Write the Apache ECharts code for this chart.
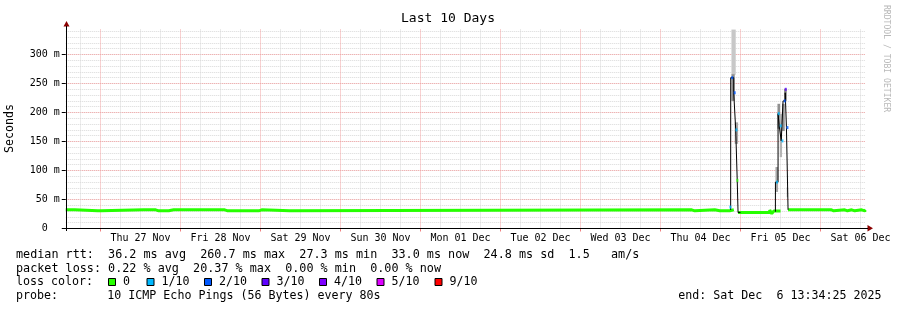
<!DOCTYPE html>
<html><head><meta charset="utf-8">
<script src="https://cdn.jsdelivr.net/npm/echarts@6/dist/echarts.min.js"></script>
<style>html,body{margin:0;padding:0;background:#fff}#c{width:897px;height:310px}</style>
</head><body><div id="c"></div>
<script>
// ---------- DATA ----------
const startTime = Date.UTC(2025, 10, 26, 13, 34, 25);
const endTime   = Date.UTC(2025, 11, 6, 13, 34, 25);

// median RTT (ms), loss 0 (green) — step segments, null = break
const greenTimes = [
 '11-26 13:34','11-26 15:04','11-26 15:40','11-26 16:16','11-26 23:10','11-26 23:46',
 '11-27 00:13','11-27 12:58','11-27 13:25','11-27 16:34','11-27 17:28','11-27 18:04',
 '11-27 20:28','11-27 21:58','11-27 22:25','11-28 13:16','11-28 14:10','11-28 14:46',
 '11-28 15:58','11-28 16:16','11-28 18:58','11-28 19:16','11-28 20:46','11-28 21:22',
 '11-28 23:28','11-29 00:22','11-29 08:46','12-04 09:22','12-04 10:16','12-04 16:16',
 '12-04 17:46','12-04 18:22','12-04 20:46','12-04 21:04','12-04 22:00',
 '12-04 23:16','12-05 08:46','12-05 09:22','12-05 09:58','12-05 10:29','12-05 12:00',
 '12-05 14:16','12-05 19:16','12-05 19:47','12-06 03:17','12-06 03:58','12-06 07:16',
 '12-06 08:05','12-06 09:22','12-06 10:16','12-06 12:22','12-06 13:16','12-06 13:34'
];
const greenValues = [
 32.2,34,32.2,30.5,32.2,30.5,
 32.2,30.5,32.2,30.5,32.2,30.5,
 32.2,30.5,32.2,30.5,32.2,30.5,
 32.2,30.5,32.2,30.5,32.2,30.5,
 32.2,30.5,32.2,30.5,32.2,30.5,
 32.2,30.5,32.2,32.2,null,
 27.5,32,25.5,30,30,null,
 32.2,30.5,32.2,30.5,32.2,30.5,
 32.2,30.5,32.2,30.5,32.2,32.2
];

// median RTT during the two latency spikes (black)
const spikeTimes = [
 '12-04 21:03','12-04 21:04','12-04 21:58','12-04 22:34','12-04 23:01','12-04 23:16','12-05 00:00',
 '12-05 10:28','12-05 10:29','12-05 11:16','12-05 11:37','12-05 12:13','12-05 12:46','12-05 13:25','12-05 13:47','12-05 14:16'
];
const spikeValues = [
 32.2,260,234,170,83,27.5,null,
 29,80,198,177,151,220,234,174,32.2
];

// loss-coloured median samples (loss index)
const dotTimes  = ['12-04 20:58','12-04 21:31','12-04 22:16','12-04 22:47','12-04 23:04',
                   '12-05 10:58','12-05 11:28','12-05 12:04','12-05 12:35','12-05 13:16','12-05 13:34','12-05 14:05'];
const dotValues = [37,260,234,170,83, 80,198,177,151,220,240,174];
const dotLoss   = [1,2,2,1,0, 1,1,1,1,2,3,2];

// smoke (ping spread) bands
const smokeStart = ['12-04 21:17','12-04 21:17','12-04 22:16','12-05 10:29','12-05 11:05','12-05 11:46','12-05 12:28','12-05 13:05','12-05 13:52'];
const smokeEnd   = ['12-04 22:34','12-04 22:16','12-04 23:16','12-05 11:16','12-05 11:52','12-05 12:28','12-05 13:16','12-05 13:52','12-05 14:16'];
const smokeLow   = [265,220,146,63,172,123,168,220,54];
const smokeHigh  = [343,266,183,106,215,198,215,241,71];
const smokeShade = ['#c8c8c8','#8c8c8c','#a8a8a8','#a8a8a8','#909090','#b4b4b4','#909090','#808080','#b4b4b4'];

// axis labels
const dayLabels = ['Thu 27 Nov','Fri 28 Nov','Sat 29 Nov','Sun 30 Nov','Mon 01 Dec','Tue 02 Dec','Wed 03 Dec','Thu 04 Dec','Fri 05 Dec','Sat 06 Dec'];
const dayDates  = ['11-27','11-28','11-29','11-30','12-01','12-02','12-03','12-04','12-05','12-06'];
const yTicks = [0,50,100,150,200,250,300];

const lossLabels = ['0','1/10','2/10','3/10','4/10','5/10','9/10'];
const lossColors = ['#26ff00','#00b8ff','#0059ff','#5e00ff','#7e00ff','#dd00ff','#ff0000'];

const legendRtt  = 'median rtt:  36.2 ms avg  260.7 ms max  27.3 ms min  33.0 ms now  24.8 ms sd  1.5   am/s';
const legendLoss = 'packet loss: 0.22 % avg  20.37 % max  0.00 % min  0.00 % now';
const legendProbe = '10 ICMP Echo Pings (56 Bytes) every 80s';
const legendEnd = 'end: Sat Dec  6 13:34:25 2025';

// ---------- helpers ----------
function T(s){ const [d,h]=s.split(' '); const [mo,da]=d.split('-').map(Number); const [hh,mm]=(h||'00:00').split(':').map(Number); return Date.UTC(2025,mo-1,da,hh,mm); }
const pair = (ts, vs) => ts.map((t,i)=>[T(t), vs[i]]);
const noonTimes = dayDates.map(d=>T(d+' 12:00'));
const midnights = dayDates.map(d=>T(d+' 00:00'));
const labelMap = {}; noonTimes.forEach((t,i)=>labelMap[t]=dayLabels[i]);

// grid lines every 6 hours
const H = 3600e3;
const gridLines = [];
for (let t = T('11-26 18:00'); t < endTime; t += 6*H) {
  const major = new Date(t).getUTCHours() === 0;
  gridLines.push({xAxis: t, lineStyle: {color: major ? '#f3a3a3' : '#d8d8d8', type: [1,1], width: 1}});
}

const MONO = '"DejaVu Sans Mono", monospace';
const GL = 65.75, GH = 200.1, GT = 228.5 - 200.1, GW = 800;

// ---------- legend graphics ----------
const LF = '11.65px ' + MONO;
function txt(s, x, y, align, font){ return {type:'text', x, y, silent:true, style:{text:s, font:font||LF, fill:'#000', align:align||'left', verticalAlign:'middle'}}; }
const g = [];
g.push({type:'text', x:448, y:19, silent:true, style:{text:'Last 10 Days', font:'13px '+MONO, fill:'#000', align:'center', verticalAlign:'middle'}});
g.push({type:'text', x:886.5, y:5, rotation:-Math.PI/2, silent:true, style:{text:'RRDTOOL / TOBI OETIKER', font:'8.1px '+MONO, fill:'#b8b8b8', align:'left', verticalAlign:'middle'}});
g.push(txt(legendRtt, 16, 255, 'left', '11.78px ' + MONO));
g.push(txt(legendLoss, 16, 268.5, 'left', '11.78px ' + MONO));
g.push(txt('loss color:',16,282.3));
const boxX = [108.5,147,204.5,262,319.5,377,435];
lossLabels.forEach((l,i)=>{
  g.push({type:'rect', silent:true, shape:{x:boxX[i], y:278.5, width:7, height:7}, style:{fill:lossColors[i], stroke:'#000', lineWidth:1}});
  g.push(txt(l, boxX[i]+14.5, 282.3));
});
g.push(txt('probe:',16,296));
g.push(txt(legendProbe,107.3,296));
g.push(txt(legendEnd,881.5,296,'right'));
// axis arrows / lines
g.push({type:'polygon', silent:true, z:100, shape:{points:[[63.5,26.5],[69.5,26.5],[66.5,21]]}, style:{fill:'#8b0000'}});
g.push({type:'polygon', silent:true, z:100, shape:{points:[[867.5,225],[867.5,231.5],[873,228.3]]}, style:{fill:'#8b0000'}});
g.push({type:'line', silent:true, z:100, shape:{x1:62, y1:228.5, x2:868, y2:228.5}, style:{stroke:'#000', lineWidth:1}});
g.push({type:'line', silent:true, z:100, shape:{x1:66.5, y1:26, x2:66.5, y2:231}, style:{stroke:'#000', lineWidth:1}});

// ---------- chart ----------
const chart = echarts.init(document.getElementById('c'), null, {renderer:'canvas'});
chart.setOption({
  animation: false,
  backgroundColor: '#fff',
  textStyle: {fontFamily: MONO},
  grid: {left: GL, top: GT, width: GW, height: GH, containLabel: false, outerBoundsMode: 'none'},
  xAxis: {
    type: 'value', min: startTime, max: endTime, scale: true,
    axisLine: {show: false},
    axisTick: {show: true, customValues: midnights, length: 3, lineStyle: {color: '#f08080'}},
    axisLabel: {show: true, customValues: noonTimes, margin: 5, color: '#000', fontFamily: MONO, fontSize: 10,
      formatter: v => labelMap[v] || ''},
    splitLine: {show: false}
  },
  yAxis: [{
    type: 'value', min: 0, max: 345, interval: 10, position: 'left',
    axisLine: {show: false}, axisTick: {show: false}, axisLabel: {show: false},
    splitLine: {show: true, showMinLine: false, showMaxLine: false, lineStyle: {color: '#d8d8d8', type: [1,1], width: 1}}
  }, {
    type: 'value', min: 0, max: 345, interval: 50, position: 'left',
    name: 'Seconds', nameLocation: 'middle', nameGap: 50, nameRotate: 90,
    nameTextStyle: {fontFamily: MONO, fontSize: 11.65, color: '#000'},
    axisLine: {show: false},
    axisTick: {show: true, length: 4, customValues: yTicks, lineStyle: {color: '#000'}},
    axisLabel: {show: true, customValues: yTicks, margin: 6, color: '#000', fontFamily: MONO, fontSize: 10,
      formatter: v => v === 0 ? '0  ' : (v % 50 === 0 && v <= 300 ? v + ' m' : '')},
    splitLine: {show: false}
  }, {
    type: 'value', min: 0, max: 345, interval: 50, position: 'left',
    axisLine: {show: false}, axisTick: {show: false}, axisLabel: {show: false},
    splitLine: {show: true, showMinLine: false, showMaxLine: false, lineStyle: {color: '#f3a3a3', type: [1,1], width: 1}}
  }],
  series: [{
    type: 'custom', name: 'smoke', z: 2, silent: true,
    data: smokeStart.map((s,i)=>[T(s), T(smokeEnd[i]), smokeLow[i], smokeHigh[i], i]),
    encode: {x: [0,1], y: [2,3]},
    renderItem: (params, api) => {
      const p0 = api.coord([api.value(0), api.value(3)]);
      const p1 = api.coord([api.value(1), api.value(2)]);
      return {type: 'rect', shape: {x: p0[0], y: p0[1], width: p1[0]-p0[0], height: p1[1]-p0[1]},
              style: {fill: smokeShade[api.value(4)]}};
    }
  }, {
    type: 'line', name: 'median', z: 3, step: 'end', showSymbol: false, silent: true, connectNulls: false,
    data: pair(greenTimes, greenValues),
    lineStyle: {color: '#26ff00', width: 3, cap: 'butt', join: 'bevel'},
    markLine: {silent: true, z: 1, symbol: ['none','none'], label: {show: false}, animation: false, data: gridLines}
  }, {
    type: 'line', name: 'spike', z: 4, step: 'end', showSymbol: false, silent: true, connectNulls: false,
    data: pair(spikeTimes, spikeValues),
    lineStyle: {color: '#000', width: 1}
  }, {
    type: 'scatter', name: 'loss', z: 5, silent: true, symbol: 'rect', symbolSize: [2,3],
    data: dotTimes.map((t,i)=>({value: [T(t), dotValues[i]], itemStyle: {color: lossColors[dotLoss[i]]}}))
  }],
  graphic: g
});
</script></body></html>
